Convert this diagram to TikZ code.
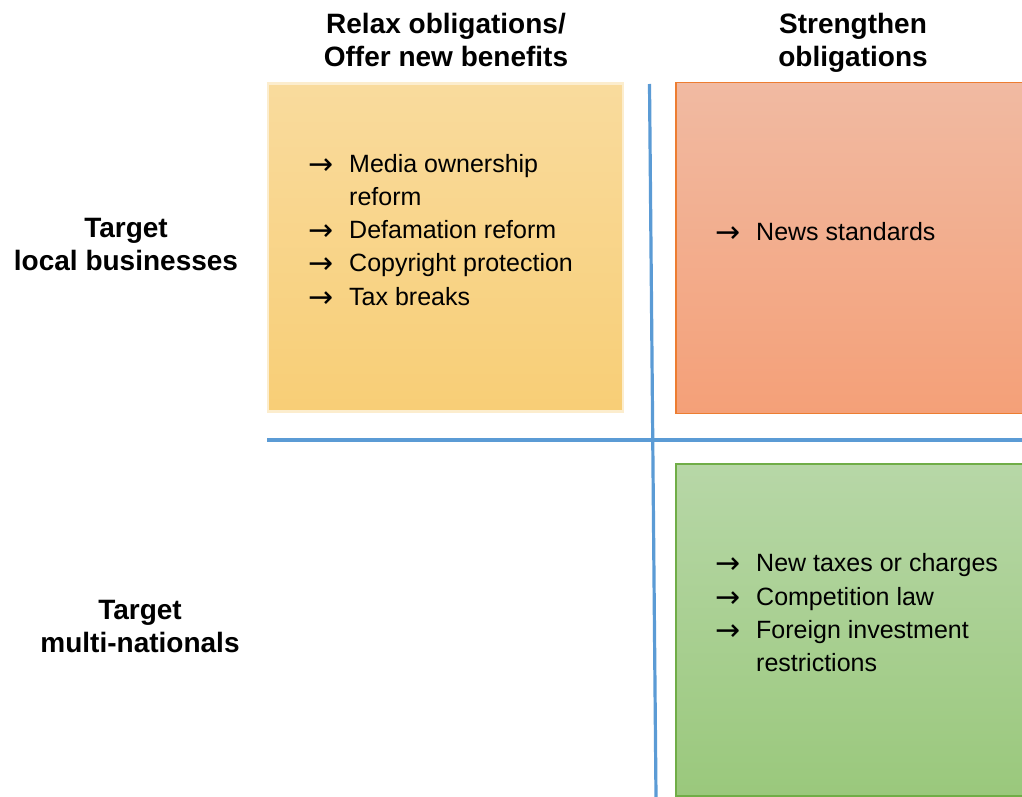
\documentclass[tikz,border=0pt]{standalone}
\usepackage{fontspec}
\setmainfont{Liberation Sans}
\newfontfamily\arrowfont{DejaVu Sans}
\definecolor{ylwtop}{RGB}{249,219,157}
\definecolor{ylwbot}{RGB}{248,206,118}
\definecolor{redtop}{RGB}{241,186,162}
\definecolor{redbot}{RGB}{244,160,120}
\definecolor{redline}{RGB}{237,125,49}
\definecolor{grntop}{RGB}{183,215,167}
\definecolor{grnbot}{RGB}{154,200,124}
\definecolor{grnline}{RGB}{112,173,71}
\definecolor{divider}{RGB}{91,155,213}
\newcommand\itemfont{\fontsize{25}{33}\selectfont}
\newcommand\headfont{\fontsize{28}{33}\selectfont\bfseries}
\newcommand\arrowglyph{\fontsize{30}{33}\selectfont\arrowfont\raisebox{-2pt}{→}}
\tikzset{
  panel/.style={inner sep=0, outer sep=0, anchor=north west},
  itemtext/.style={anchor=base west, inner sep=0, font=\itemfont},
  bullet/.style={anchor=base west, inner sep=0},
  headtext/.style={anchor=base, inner sep=0, font=\headfont},
  divline/.style={draw=divider, line width=3.2pt},
}
\begin{document}
\begin{tikzpicture}[x=1pt, y=-1pt]
\path[use as bounding box] (0,0) rectangle (1022,797);

% quadrant panels
\node[panel, minimum width=355pt, minimum height=328pt,
      top color=ylwtop, bottom color=ylwbot,
      draw=ylwtop!50!white, line width=2.5pt] (relax) at (268,83.5) {};
\node[panel, minimum width=350pt, minimum height=331pt,
      top color=redtop, bottom color=redbot,
      draw=redline, line width=1.3pt] (strengthen) at (676,82.5) {};
\node[panel, minimum width=350pt, minimum height=332pt,
      top color=grntop, bottom color=grnbot,
      draw=grnline, line width=1.3pt] (multi) at (676,464) {};

% dividing lines
\coordinate (vtop) at (649.5,84);
\coordinate (vbot) at (656,797);
\coordinate (hleft) at (267,440);
\coordinate (hright) at (1022,440);
\draw[divline] (vtop) -- (vbot);
\draw[divline] (hleft) -- (hright);

% column headings
\node[headtext] (colA1) at (446,34) {Relax obligations/};
\node[headtext] (colA2) at (446,67) {Offer new benefits};
\node[headtext] (colB1) at (853,34) {Strengthen};
\node[headtext] (colB2) at (853,67) {obligations};

% row headings
\node[headtext] (rowA1) at (126,237) {Target};
\node[headtext] (rowA2) at (126,270) {local businesses};
\node[headtext] (rowB1) at (140,619) {Target};
\node[headtext] (rowB2) at (140,652) {multi-nationals};

% relax obligations list
\node[bullet] (ra1) at (308.5,172) {\arrowglyph};
\node[itemtext] (rt1) at (349,172) {Media ownership};
\node[itemtext] (rt1b) at (349,205) {reform};
\node[bullet] (ra2) at (308.5,238) {\arrowglyph};
\node[itemtext] (rt2) at (349,238) {Defamation reform};
\node[bullet] (ra3) at (308.5,271) {\arrowglyph};
\node[itemtext] (rt3) at (349,271) {Copyright protection};
\node[bullet] (ra4) at (308.5,305) {\arrowglyph};
\node[itemtext] (rt4) at (349,305) {Tax breaks};

% strengthen obligations list
\node[bullet] (sa1) at (715.5,240.5) {\arrowglyph};
\node[itemtext] (st1) at (756,240.5) {News standards};

% multi-nationals list
\node[bullet] (ma1) at (715.5,571.5) {\arrowglyph};
\node[itemtext] (mt1) at (756,571.5) {New taxes or charges};
\node[bullet] (ma2) at (715.5,605) {\arrowglyph};
\node[itemtext] (mt2) at (756,605) {Competition law};
\node[bullet] (ma3) at (715.5,638) {\arrowglyph};
\node[itemtext] (mt3) at (756,638) {Foreign investment};
\node[itemtext] (mt3b) at (756,671) {restrictions};
\end{tikzpicture}
\end{document}
